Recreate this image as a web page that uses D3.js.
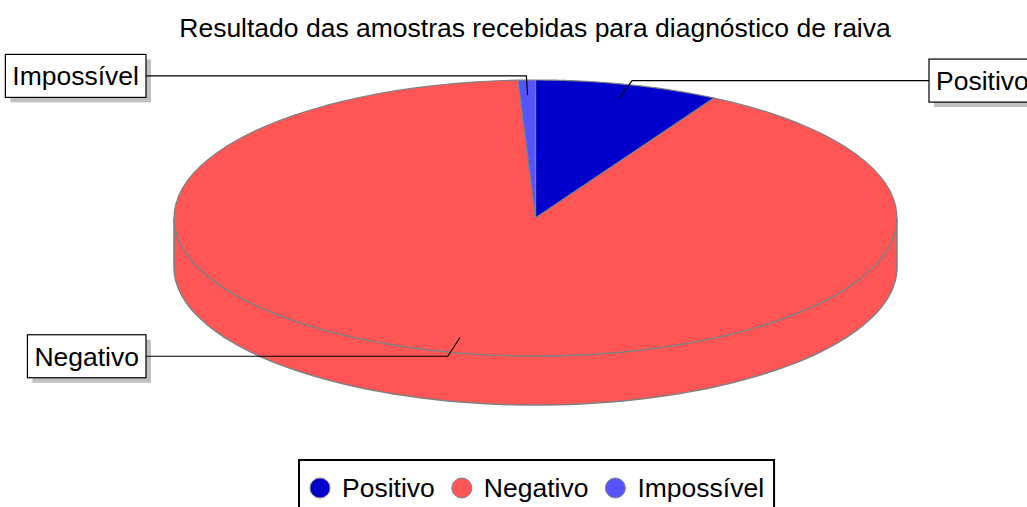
<!doctype html>
<meta charset="utf-8">
<style>
    body { margin: 0; background: #fff; }
    text { font-family: "Liberation Sans", Arial, sans-serif; }
</style>
<body>
<script src="https://d3js.org/d3.v7.min.js"></script>
<script>
    // data
    const title = 'Resultado das amostras recebidas para diagnóstico de raiva';
    const categories = ['Positivo', 'Negativo', 'Impossível'];
    const values = [32, 354, 3];
    const colors = ['#0000cc', '#ff5555', '#5555ff'];

    const width = 1027, height = 507;
    const cx = 535.5, cy = 218, rx = 361.5, ry = 138, depth = 49;
    const outline = '#808080';
    const fs = '26.5px';

    const svg = d3.select('body').append('svg')
        .attr('width', width)
        .attr('height', height);

    svg.append('text')
        .attr('x', 535)
        .attr('y', 37)
        .attr('text-anchor', 'middle')
        .style('font-size', fs)
        .text(title);

    const slices = d3.pie().sort(null).value(d => d)(values);

    // point on the ellipse, angle clockwise from 12 o'clock
    const pt = (a, kx = 1, ky = kx, dy = 0) => [cx + rx * kx * Math.sin(a), cy - ry * ky * Math.cos(a) + dy];
    const arcPts = (a0, a1, dy = 0) => d3.range(0, 101).map(i => pt(a0 + (a1 - a0) * i / 100, 1, 1, dy));
    const line = d3.line();

    // side (only the front half is visible)
    const g = svg.append('g');
    slices.forEach((s, i) => {
        const lo = Math.max(s.startAngle, Math.PI / 2);
        const hi = Math.min(s.endAngle, Math.PI * 3 / 2);
        if (lo >= hi) return;
        const pts = arcPts(lo, hi).concat(arcPts(hi, lo, depth));
        g.append('path')
            .attr('d', line(pts) + 'Z')
            .attr('fill', colors[i])
            .attr('stroke', outline)
            .attr('stroke-width', 1.5);
    });

    // top faces
    slices.forEach((s, i) => {
        const pts = [[cx, cy]].concat(arcPts(s.startAngle, s.endAngle));
        g.append('path')
            .attr('d', line(pts) + 'Z')
            .attr('fill', colors[i])
            .attr('stroke', outline)
            .attr('stroke-width', 1.2)
            .attr('stroke-linejoin', 'round');
    });

    // labels
    const lbl = svg.append('g');
    slices.forEach((s, i) => {
        const mid = (s.startAngle + s.endAngle) / 2;
        const left = Math.sin(mid) < 0;
        const p0 = pt(mid, 0.9, 0.89);
        const p1 = pt(mid, 1.045, 1.03);
        const edge = left ? 146 : 929;
        lbl.append('path')
            .attr('d', line([p0, p1, [edge, p1[1]]]))
            .attr('fill', 'none')
            .attr('stroke', '#000')
            .attr('stroke-width', 1.2);

        const t = lbl.append('text')
            .style('font-size', fs)
            .text(categories[i]);
        const tw = t.node().getComputedTextLength();
        const bw = tw + 14, bh = 43;
        const bx = left ? edge - bw : edge;
        const by = p1[1] - bh / 2;
        lbl.insert('rect', 'text')
            .attr('x', bx + 5).attr('y', by + 5)
            .attr('width', bw).attr('height', bh)
            .attr('fill', '#c0c0c0');
        lbl.insert('rect', 'text')
            .attr('x', bx).attr('y', by)
            .attr('width', bw).attr('height', bh)
            .attr('fill', '#fff')
            .attr('stroke', '#000')
            .attr('stroke-width', 1.2);
        t.attr('x', bx + 7).attr('y', by + bh / 2 + 9.5);
    });

    // legend
    const leg = svg.append('g');
    let x = 310;
    categories.forEach((c, i) => {
        leg.append('circle')
            .attr('cx', x + 10).attr('cy', 488).attr('r', 10)
            .attr('fill', colors[i])
            .attr('stroke', outline)
            .attr('stroke-width', 1);
        const t = leg.append('text')
            .attr('x', x + 32).attr('y', 497)
            .style('font-size', fs)
            .text(c);
        x += 32 + t.node().getComputedTextLength() + 17;
    });
    leg.insert('rect', ':first-child')
        .attr('x', 299).attr('y', 460)
        .attr('width', x - 17 + 10 - 299).attr('height', 70)
        .attr('fill', '#fff')
        .attr('stroke', '#000')
        .attr('stroke-width', 2);
</script>
